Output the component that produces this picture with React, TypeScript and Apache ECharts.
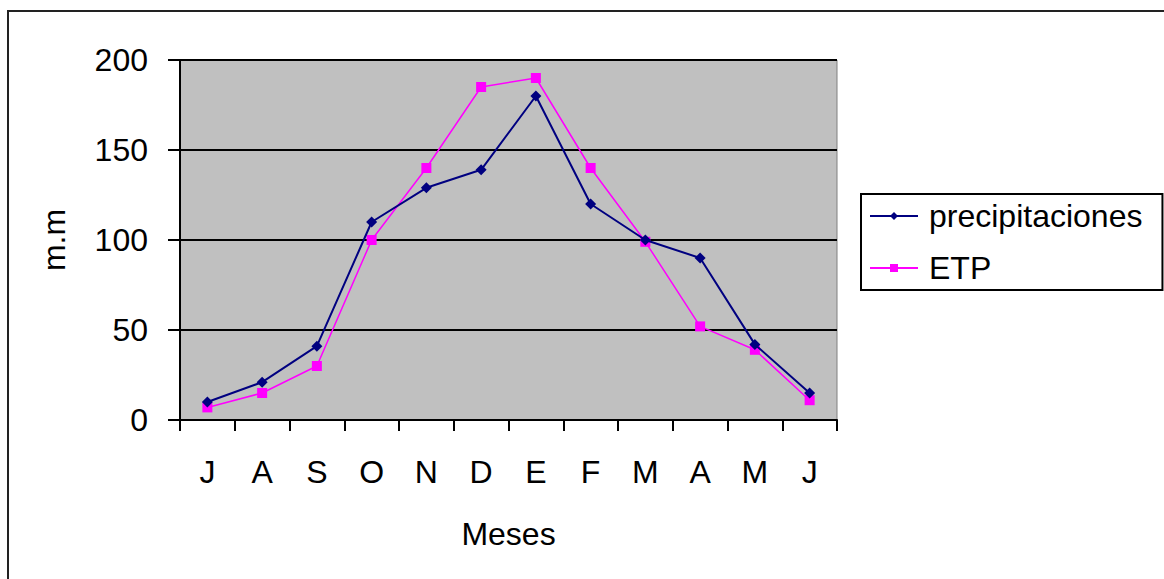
import React, { useEffect, useRef } from "react";
import * as echarts from "echarts";

const months = ["J", "A", "S", "O", "N", "D", "E", "F", "M", "A", "M", "J"];
const precipitaciones = [10, 21, 41, 110, 129, 139, 180, 120, 100, 90, 42, 15];
const etp = [7, 15, 30, 100, 140, 185, 190, 140, 99, 52, 39, 11];
const yTicks = { min: 0, max: 200, interval: 50 };

const FONT = "'Liberation Sans', Arial, sans-serif";
const FS = 32;

export default function App() {
  const ref = useRef<HTMLDivElement>(null);
  useEffect(() => {
    if (!ref.current) return;
    const chart = echarts.init(ref.current, null, { renderer: "svg" });
    chart.setOption({
      animation: false,
      backgroundColor: "#ffffff",
      textStyle: { fontFamily: FONT, color: "#000" },
      grid: {
        left: 180,
        top: 60,
        right: 1164 - 837,
        bottom: 579 - 420,
        show: true,
        backgroundColor: "#c0c0c0",
        borderColor: "#808080",
        borderWidth: 1,
      },
      graphic: [
        {
          type: "rect",
          silent: true,
          z: -10,
          shape: { x: 8, y: 11, width: 1200, height: 620 },
          style: { fill: "none", stroke: "#222", lineWidth: 2 },
        },
      ],
      legend: {
        orient: "vertical",
        left: 861,
        top: 194,
        backgroundColor: "#fff",
        borderColor: "#000",
        borderWidth: 2,
        borderRadius: 0,
        padding: [5, 20, 5, 8],
        itemGap: 18,
        itemWidth: 48,
        itemHeight: 10,
        textStyle: { fontFamily: FONT, fontSize: FS, color: "#000", padding: [0, 0, 0, 6], lineHeight: 34 },
        data: ["precipitaciones", "ETP"],
      },
      xAxis: {
        type: "category",
        data: months,
        boundaryGap: true,
        name: "Meses",
        nameLocation: "middle",
        nameGap: 98,
        nameTextStyle: { fontFamily: FONT, fontSize: FS, color: "#000" },
        axisLine: { lineStyle: { color: "#000", width: 2 } },
        axisTick: { show: true, length: 11, alignWithLabel: false, lineStyle: { color: "#000", width: 2 } },
        axisLabel: { fontFamily: FONT, fontSize: FS, color: "#000", margin: 36 },
        splitLine: { show: false },
      },
      yAxis: {
        type: "value",
        min: yTicks.min,
        max: yTicks.max,
        interval: yTicks.interval,
        name: "m.m",
        nameLocation: "middle",
        nameGap: 110,
        nameRotate: 90,
        nameTextStyle: { fontFamily: FONT, fontSize: FS, color: "#000" },
        axisLine: { show: true, lineStyle: { color: "#000", width: 2 } },
        axisTick: { show: true, length: 12, lineStyle: { color: "#000", width: 2 } },
        axisLabel: { fontFamily: FONT, fontSize: FS, color: "#000", margin: 32 },
        splitLine: { show: true, lineStyle: { color: "#000", width: 2 } },
      },
      series: [
        {
          name: "precipitaciones",
          type: "line",
          data: precipitaciones,
          symbol: "diamond",
          symbolSize: 11,
          itemStyle: { color: "#000080" },
          lineStyle: { color: "#000080", width: 2 },
          z: 3,
        },
        {
          name: "ETP",
          type: "line",
          data: etp,
          symbol: "rect",
          symbolSize: 10,
          itemStyle: { color: "#ff00ff" },
          lineStyle: { color: "#ff00ff", width: 1.5 },
          z: 2,
        },
      ],
    });
    return () => chart.dispose();
  }, []);
  return (
    <div
      ref={ref}
      style={{ position: "absolute", left: 0, top: 0, width: 1164, height: 579 }}
    />
  );
}
